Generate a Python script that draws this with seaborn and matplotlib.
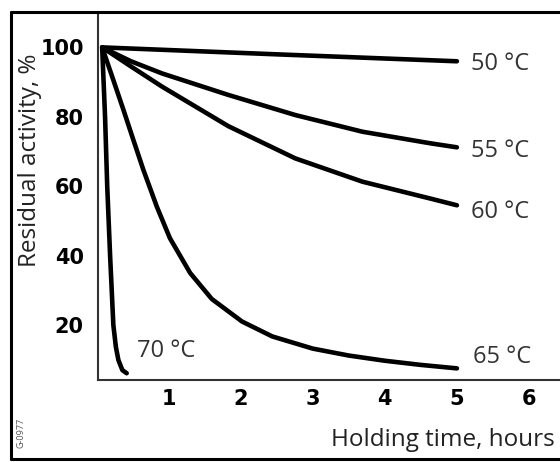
import matplotlib
matplotlib.use("Agg")
import matplotlib.pyplot as plt
from matplotlib.lines import Line2D
import seaborn as sns
import pandas as pd

# ---- data ----
t50 = [0.08, 2.5, 5]
a50 = [100, 98.0, 96.0]

t55 = [0.08, 0.48, 0.91, 1.83, 2.76, 3.69, 4.62, 5]
a55 = [100, 96.0, 92.5, 86.3, 80.5, 75.7, 72.4, 71.2]

t60 = [0.08, 0.48, 0.91, 1.83, 2.76, 3.69, 4.62, 5]
a60 = [100, 94.5, 88.7, 77.3, 68.0, 61.3, 56.5, 54.5]

t65 = [0.08, 0.22, 0.375, 0.51, 0.65, 0.84, 1.02, 1.30, 1.60, 2.02, 2.44, 3.0, 3.5, 4.0, 4.5, 5.0]
a65 = [100, 91.5, 82, 73.5, 64.8, 54, 45, 35, 27.5, 21, 16.7, 13.2, 11.2, 9.7, 8.5, 7.5]

t70 = [0.08, 0.12, 0.15, 0.19, 0.235, 0.27, 0.305, 0.36, 0.42]
a70 = [100, 80, 60, 40, 20, 13.7, 9.9, 7.0, 6.1]

series_names = ["50 °C", "55 °C", "60 °C", "65 °C", "70 °C"]
label_x = [5.2, 5.2, 5.2, 5.22, 0.57]
label_y = [93.5, 68.4, 50.8, 9.0, 10.8]

x_ticks = [1, 2, 3, 4, 5, 6]
y_ticks = [20, 40, 60, 80, 100]

xlabel = "Holding time, hours"
ylabel = "Residual activity, %"
code_text = "G-0977"

# ---- build table ----
rows = []
for name, ts, vs in zip(series_names, [t50, t55, t60, t65, t70], [a50, a55, a60, a65, a70]):
    for t, v in zip(ts, vs):
        rows.append({"time": t, "activity": v, "temp": name})
df = pd.DataFrame(rows)

sns.set_theme(style="white")
plt.rcParams["font.family"] = ["Open Sans", "DejaVu Sans"]

W, H = 560, 462
fig = plt.figure(figsize=(W / 100, H / 100), dpi=100)
ax = fig.add_axes([97.7 / W, (H - 380) / H, (W - 97.7) / W, (380 - 12) / H])

sns.lineplot(data=df, x="time", y="activity", hue="temp",
             palette={n: "black" for n in series_names},
             estimator=None, sort=False, legend=False, ax=ax,
             linewidth=3.3, solid_capstyle="round", solid_joinstyle="round")

ax.set_xlim(0.018, 6.43)
ax.set_ylim(4.15, 110.2)
ax.set_xticks(x_ticks)
ax.set_yticks(y_ticks)
ax.set_xticklabels([str(v) for v in x_ticks])
ax.set_yticklabels([str(v) for v in y_ticks])
ax.set_xlabel("")
ax.set_ylabel("")

for s in ["top", "right"]:
    ax.spines[s].set_visible(False)
for s in ["left", "bottom"]:
    ax.spines[s].set_color("#333333")
    ax.spines[s].set_linewidth(1.5)

ax.tick_params(axis="both", direction="in", length=7, width=1.0, color="#333333",
               labelsize=15, labelcolor="black")
ax.tick_params(axis="x", pad=6.5)
ax.tick_params(axis="y", pad=10)
for lab in ax.get_xticklabels() + ax.get_yticklabels():
    lab.set_fontweight("bold")
    lab.set_family("DejaVu Sans")

for name, lx, ly in zip(series_names, label_x, label_y):
    ax.text(lx, ly, name, fontsize=17, color="#333333", va="baseline", ha="left")

fig.text(555 / W, 1 - 440 / H, xlabel, fontsize=17.5, color="#222222", ha="right", va="center")
fig.text(30 / W, 1 - 160 / H, ylabel, fontsize=17.5, color="#222222", rotation=90,
         ha="center", va="center")
fig.text(21 / W, 1 - 433 / H, code_text, fontsize=6.5, color="#555555", rotation=90,
         ha="center", va="center")

# outer frame
fx0, fx1 = 10.5 / W, 1.01
fy0, fy1 = 1 - 459 / H, 1 - 12 / H
for xs, ys in [([fx0, fx1], [fy1, fy1]), ([fx0, fx1], [fy0, fy0]), ([fx0, fx0], [fy0, fy1])]:
    fig.add_artist(Line2D(xs, ys, transform=fig.transFigure, color="black", linewidth=2.2))

fig.savefig("out.png", dpi=100)
